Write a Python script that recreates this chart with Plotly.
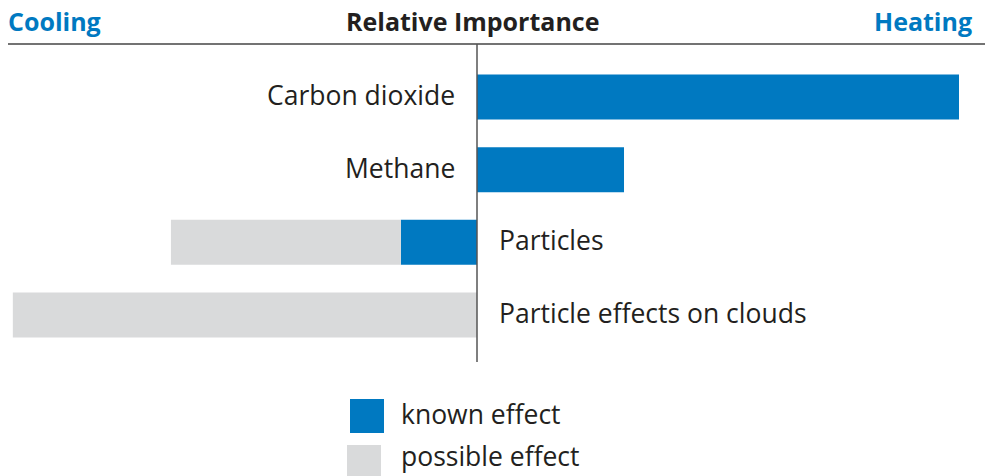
import plotly.graph_objects as go

# Forcings, in relative-importance units (positive = heating, negative = cooling)
categories = ["Carbon dioxide", "Methane", "Particles", "Particle effects on clouds"]
known_effect = [100.0, 30.5, -15.8, 0.0]
possible_effect = [0.0, 0.0, -47.7, -96.3]
label_side = ["left", "left", "right", "right"]

BLUE = "#0079C1"
GREY = "#D9DADB"
INK = "#231F20"
FONT = "Open Sans"
LABEL_SIZE = 26.5
HEAD_SIZE = 25

fig = go.Figure()
fig.add_trace(go.Bar(y=categories, x=known_effect, orientation="h",
                     marker=dict(color=BLUE, line_width=0), width=0.62,
                     name="known effect", showlegend=False, hoverinfo="skip"))
fig.add_trace(go.Bar(y=categories, x=possible_effect, orientation="h",
                     marker=dict(color=GREY, line_width=0), width=0.62,
                     name="possible effect", showlegend=False, hoverinfo="skip"))

annotations = []
for cat, side in zip(categories, label_side):
    if side == "left":
        annotations.append(dict(x=-4.2, y=cat, xref="x", yref="y", text=cat,
                                xanchor="right", showarrow=False, yshift=2,
                                font=dict(family=FONT, size=LABEL_SIZE, color=INK)))
    else:
        annotations.append(dict(x=4.2, y=cat, xref="x", yref="y", text=cat,
                                xanchor="left", showarrow=False, yshift=2,
                                font=dict(family=FONT, size=LABEL_SIZE, color=INK)))

# Header
annotations += [
    dict(x=6 / 987, y=1 - 21 / 476, xref="paper", yref="paper", text="<b>Cooling</b>",
         xanchor="left", yanchor="middle", showarrow=False,
         font=dict(family=FONT, size=HEAD_SIZE, color=BLUE)),
    dict(x=472 / 987, y=1 - 21 / 476, xref="paper", yref="paper", text="<b>Relative Importance</b>",
         xanchor="center", yanchor="middle", showarrow=False,
         font=dict(family=FONT, size=HEAD_SIZE, color=INK)),
    dict(x=974 / 987, y=1 - 21 / 476, xref="paper", yref="paper", text="<b>Heating</b>",
         xanchor="right", yanchor="middle", showarrow=False,
         font=dict(family=FONT, size=HEAD_SIZE, color=BLUE)),
]

# Legend: swatch centre (px from top), swatch left edge, text anchoring
legend_items = [("known effect", BLUE, 416, 350, 1 - 414 / 476, "middle"),
                ("possible effect", GREY, 462, 347, 0.0, "bottom")]
shapes = []
for text, color, yc, x_left, ty, tanchor in legend_items:
    shapes.append(dict(type="rect", xref="paper", yref="paper",
                       x0=x_left / 987, x1=(x_left + 34) / 987,
                       y0=1 - (yc + 17) / 476, y1=1 - (yc - 17) / 476,
                       fillcolor=color, line_width=0))
    annotations.append(dict(x=399 / 987, y=ty, xref="paper", yref="paper",
                            text=text, xanchor="left", yanchor=tanchor, showarrow=False,
                            font=dict(family=FONT, size=LABEL_SIZE, color=INK)))

# Header rule and zero line
shapes.append(dict(type="line", xref="paper", yref="paper", x0=8 / 987, x1=985 / 987,
                   y0=1 - 44 / 476, y1=1 - 44 / 476, line=dict(color="#444444", width=1.5)))
shapes.append(dict(type="line", xref="x", yref="paper", x0=0, x1=0,
                   y0=1 - 362 / 476, y1=1 - 44 / 476, line=dict(color="#555555", width=1.5)))

fig.update_layout(
    width=987, height=476,
    margin=dict(l=0, r=0, t=0, b=0),
    paper_bgcolor="white", plot_bgcolor="white",
    barmode="relative",
    xaxis=dict(range=[-477 / 4.82, 510 / 4.82], visible=False, fixedrange=True),
    yaxis=dict(range=[(476 - 97) / 72.67, -97 / 72.67], visible=False, fixedrange=True),
    annotations=annotations,
    shapes=shapes,
)

fig.write_html("out.html")
